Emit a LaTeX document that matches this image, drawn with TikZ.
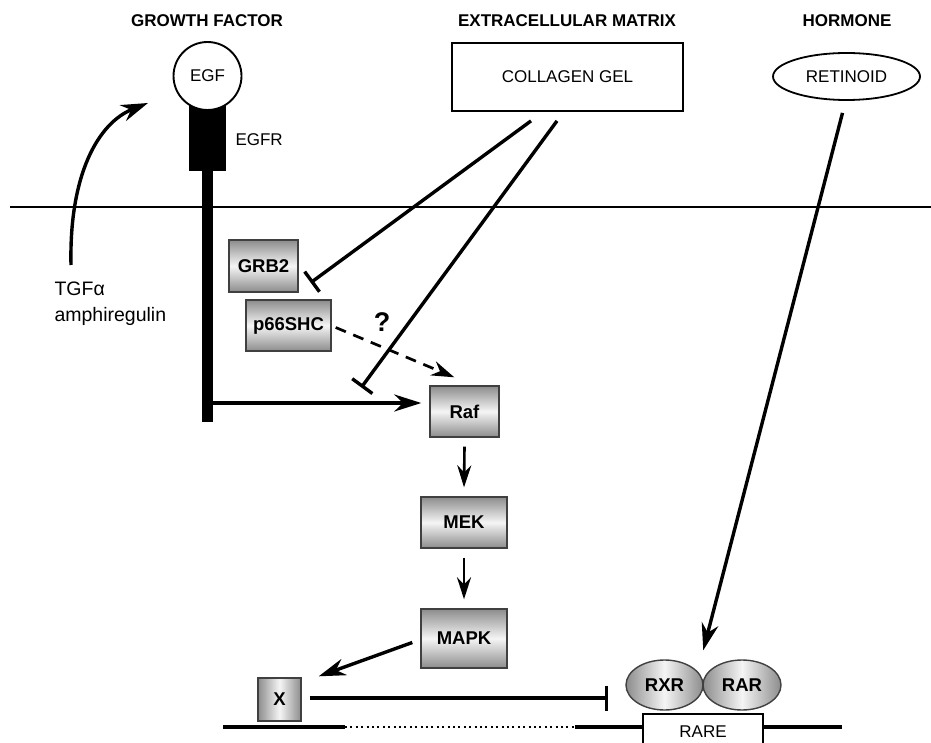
\documentclass[tikz,border=0pt]{standalone}
\usepackage{fontspec}
\setmainfont{Liberation Sans}
\usetikzlibrary{arrows.meta,calc,shapes.geometric}
\begin{document}
\begin{tikzpicture}[x=1pt,y=-1pt,
  head/.style={font=\fontsize{17}{20}\selectfont\bfseries},
  lab/.style={font=\fontsize{17}{20}\selectfont},
  kin/.style={draw=black!75, line width=1.4pt, top color=black!45, bottom color=black!45, middle color=black!4, font=\fontsize{18.5}{20}\selectfont\bfseries, inner sep=0pt},
  kinx/.style={draw=black!75, line width=1.4pt, left color=black!45, right color=black!45, middle color=black!4, font=\fontsize{18.5}{20}\selectfont\bfseries, inner sep=0pt},
  ell/.style={ellipse, draw=black!75, line width=1.4pt, left color=black!45, right color=black!45, middle color=black!4, font=\fontsize{18.5}{20}\selectfont\bfseries, inner sep=0pt},
  sig/.style={line width=3.4pt},
  arr/.style={sig, -{Stealth[length=27pt,width=17pt]}},
  arrs/.style={line width=2.6pt, -{Stealth[length=22pt,width=14pt]}},
  inh/.style={sig, -{Bar[width=25pt]}},
  dnaline/.style={line width=3.2pt}
]
\useasboundingbox (0,0) rectangle (931,743);

% headers
\node[head] (hgf) at (207,21) {GROWTH FACTOR};
\node[head] (hecm) at (567,21) {EXTRACELLULAR MATRIX};
\node[head] (hhor) at (847,21) {HORMONE};

% top elements
\node[draw, line width=1.8pt, minimum width=231pt, minimum height=68pt, lab] (col) at (567.5,77) {COLLAGEN GEL};
\node[ellipse, draw, line width=1.8pt, minimum width=147pt, minimum height=47pt, inner sep=0pt, lab] (ret) at (846.5,76.5) {RETINOID};

% receptor
\node[fill, minimum width=37pt, minimum height=66pt, inner sep=0pt] (egfr) at (207.5,138) {};
\node[fill, minimum width=11pt, minimum height=252pt, inner sep=0pt] (stem) at (207.5,296) {};
\node[circle, draw, fill=white, line width=1.9pt, minimum size=68pt, inner sep=0pt, lab] (egf) at (207.5,76) {EGF};
\node[lab, anchor=west] (egfrl) at (232,140) {EGFR};

% membrane
\coordinate (m1) at (10,207);
\coordinate (m2) at (931,207);
\draw[line width=1.8pt] (m1) -- (m2);

% autocrine ligands
\node[anchor=west, align=left, font=\fontsize{19.5}{26}\selectfont] (tgf) at (51,304) {TGFα\\amphiregulin};
\coordinate (c0) at (71,265);
\coordinate (c1) at (148,103);
\draw[arr] (c0) .. controls (69,175) and (98,123) .. (c1);

% kinases
\node[kin, minimum width=69pt, minimum height=52pt] (grb2) at (263.5,266) {GRB2};
\node[kin, minimum width=85pt, minimum height=51pt] (p66) at (288.5,325.5) {p66SHC};
\node[kin, minimum width=69pt, minimum height=51pt] (raf) at (464.5,411.5) {Raf};
\node[kin, minimum width=86pt, minimum height=51pt] (mek) at (464,522.5) {MEK};
\node[kin, minimum width=86pt, minimum height=59pt] (mapk) at (464,638.5) {MAPK};
\node[kinx, minimum width=43pt, minimum height=43pt] (x) at (279.5,699.5) {X};

% DNA
\node[ell, minimum width=77pt, minimum height=50pt] (rxr) at (664.5,685) {RXR};
\node[ell, minimum width=78pt, minimum height=50pt] (rar) at (742,685) {RAR};
\node[draw, fill=white, line width=1.8pt, minimum width=120pt, minimum height=40pt, anchor=north, lab] (rare) at (703,713) {\raisebox{5pt}{RARE}};
\coordinate (dna0) at (223,727);
\coordinate (dna1) at (345,727);
\coordinate (dna2) at (575,727);
\coordinate (dna3) at (842,727);
\draw[dnaline] (dna0) -- (dna1);
\draw[line width=2pt, dash pattern=on 2pt off 3.4pt] (dna1) -- (dna2);
\draw[dnaline] (dna2) -- (rare.west |- dna2);
\draw[dnaline] (rare.east |- dna2) -- (dna3);

% collagen inhibitions
\draw[inh] ([xshift=-36.5pt,yshift=-9pt]col.south) -- ([xshift=12pt,yshift=10pt]grb2.south east);
\draw[inh] ([xshift=-10.5pt,yshift=-9pt]col.south) -- ([xshift=-68pt,yshift=24pt]raf.west);

% p66SHC dashed
\draw[line width=2.7pt, dash pattern=on 11pt off 8pt, -{Stealth[length=23pt,width=15pt]}] ([xshift=4pt,yshift=-2pt]p66.east) -- ([xshift=25pt,yshift=8pt]raf.north west);
\node[font=\fontsize{27}{30}\selectfont\bfseries] (q) at (382,322) {?};

% EGFR -> Raf
\coordinate (rafin) at ([yshift=8.5pt]raf.west);
\draw[arr, shorten >=8pt] (stem.east |- rafin) -- (rafin);

% cascade
\draw[arrs] ([yshift=-9pt]raf.south) -- ([yshift=9pt]mek.north);
\draw[arrs] ([yshift=-9pt]mek.south) -- ([yshift=9pt]mapk.north);
\draw[arr] ([xshift=-8pt,yshift=-4pt]mapk.west) -- ([xshift=17pt,yshift=1pt]x.north east);
\draw[inh] ([xshift=8pt,yshift=1.5pt]x.east) -- ([xshift=-17pt,yshift=1.5pt]x.east -| rxr.west);

% retinoid
\coordinate (dimer) at ($(rxr.north)!0.5!(rar.north)$);
\draw[arr] ([xshift=-4pt,yshift=-12pt]ret.south) -- ([yshift=9pt]dimer);
\end{tikzpicture}
\end{document}
